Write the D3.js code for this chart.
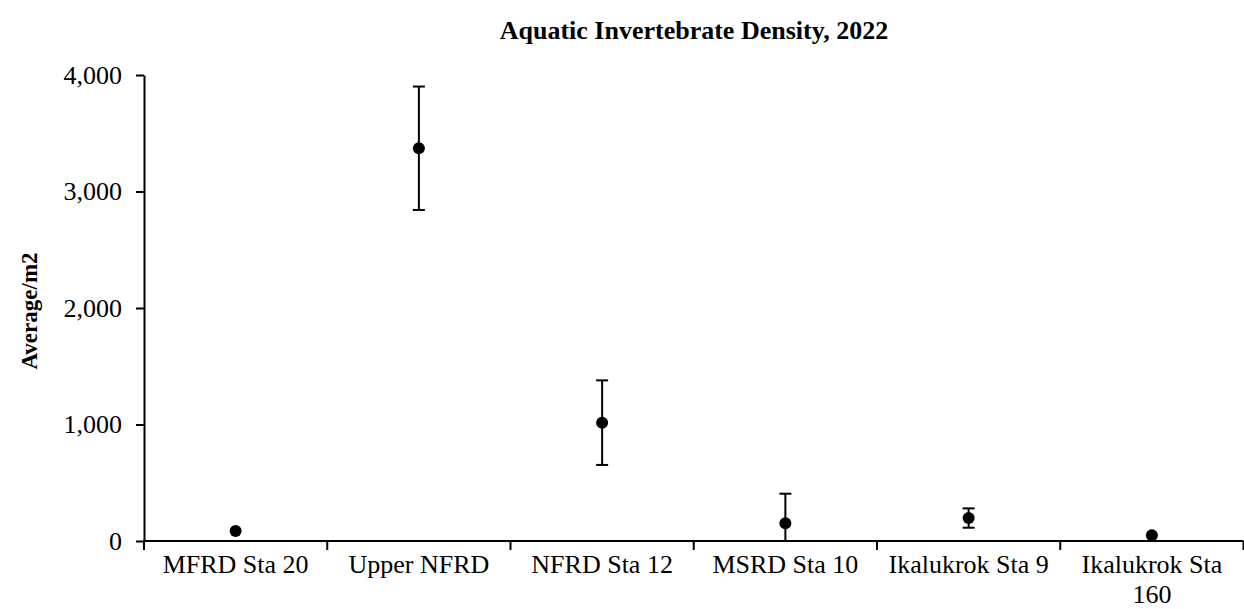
<!DOCTYPE html>
<html>
<head>
<meta charset="utf-8">
<script src="https://cdn.jsdelivr.net/npm/d3@7"></script>
<style>
  html, body { margin: 0; padding: 0; background: #fff; }
  svg { display: block; font-family: "Liberation Serif", "Times New Roman", serif; }
</style>
</head>
<body>
<svg id="chart" width="1244" height="609"></svg>
<script>
// Station names (x categories), with line breaks where the axis wraps them
const stations = ["MFRD Sta 20", "Upper NFRD", "NFRD Sta 12", "MSRD Sta 10", "Ikalukrok Sta 9", "Ikalukrok Sta 160"];
const stationLines = [["MFRD Sta 20"], ["Upper NFRD"], ["NFRD Sta 12"], ["MSRD Sta 10"], ["Ikalukrok Sta 9"], ["Ikalukrok Sta", "160"]];
// Mean density per square metre
const meanDensity = [86, 3371, 1016, 152, 197, 49];
// Error (± value) for each station
const errorAmount = [0, 530, 363, 254, 83, 0];
// Y axis ticks
const yTicks = [0, 1000, 2000, 3000, 4000];

const FONT = "Liberation Serif, Times New Roman, serif";
const svg = d3.select("#chart");

const x = d3.scaleBand()
  .domain(stations)
  .range([144, 1243.5])
  .paddingInner(0).paddingOuter(0);

const y = d3.scaleLinear()
  .domain([0, 4000])
  .range([541, 75]);

// Title
svg.append("text")
  .attr("x", 694).attr("y", 39)
  .attr("text-anchor", "middle")
  .attr("font-weight", "bold")
  .attr("font-size", 26)
  .text("Aquatic Invertebrate Density, 2022");

// Y axis title
svg.append("text")
  .attr("transform", "translate(37,311) rotate(-90)")
  .attr("text-anchor", "middle")
  .attr("font-weight", "bold")
  .attr("font-size", 23)
  .text("Average/m2");

// Y axis
const yAxis = svg.append("g")
  .attr("transform", `translate(144,0)`)
  .call(d3.axisLeft(y).tickValues(yTicks).tickFormat(d3.format(",")).tickSize(8).tickPadding(14).tickSizeOuter(0));
yAxis.attr("font-family", FONT).attr("font-size", 26);
yAxis.select(".domain").attr("stroke", "#000").attr("stroke-width", 2);
yAxis.selectAll(".tick line").attr("stroke", "#000").attr("stroke-width", 2);
yAxis.selectAll(".tick text").attr("fill", "#000");

// X axis: ticks between categories
const xAxisG = svg.append("g").attr("transform", `translate(0,${y(0)})`);
xAxisG.append("line")
  .attr("x1", 143).attr("x2", 1243.5)
  .attr("stroke", "#000").attr("stroke-width", 2);
const boundaries = stations.map(s => x(s)).concat([x(stations[stations.length - 1]) + x.bandwidth()]);
xAxisG.selectAll("line.tick")
  .data(boundaries)
  .join("line")
  .attr("class", "tick")
  .attr("x1", d => d).attr("x2", d => d)
  .attr("y1", 0).attr("y2", 9)
  .attr("stroke", "#000").attr("stroke-width", 2);

const labels = xAxisG.selectAll("text.cat")
  .data(stations)
  .join("text")
  .attr("class", "cat")
  .attr("text-anchor", "middle")
  .attr("font-size", 26)
  .attr("x", d => x(d) + x.bandwidth() / 2)
  .attr("y", 32);
labels.each(function(d, i) {
  const t = d3.select(this);
  stationLines[i].forEach((line, j) => {
    t.append("tspan")
      .attr("x", x(d) + x.bandwidth() / 2)
      .attr("dy", j === 0 ? 0 : 30)
      .text(line);
  });
});

// Error bars
const data = stations.map((s, i) => ({ s, v: meanDensity[i], e: errorAmount[i] }));
const cx = d => x(d.s) + x.bandwidth() / 2;
const bars = svg.append("g").selectAll("g")
  .data(data.filter(d => d.e > 0))
  .join("g");
bars.append("line")
  .attr("x1", cx).attr("x2", cx)
  .attr("y1", d => y(d.v + d.e))
  .attr("y2", d => y(Math.max(0, d.v - d.e)))
  .attr("stroke", "#000").attr("stroke-width", 2);
bars.append("line")
  .attr("x1", d => cx(d) - 6).attr("x2", d => cx(d) + 6)
  .attr("y1", d => y(d.v + d.e)).attr("y2", d => y(d.v + d.e))
  .attr("stroke", "#000").attr("stroke-width", 2);
bars.filter(d => d.v - d.e > 0).append("line")
  .attr("x1", d => cx(d) - 6).attr("x2", d => cx(d) + 6)
  .attr("y1", d => y(d.v - d.e)).attr("y2", d => y(d.v - d.e))
  .attr("stroke", "#000").attr("stroke-width", 2);

// Mean markers
svg.append("g").selectAll("circle")
  .data(data)
  .join("circle")
  .attr("cx", cx)
  .attr("cy", d => y(d.v))
  .attr("r", 6)
  .attr("fill", "#000");
</script>
</body>
</html>
